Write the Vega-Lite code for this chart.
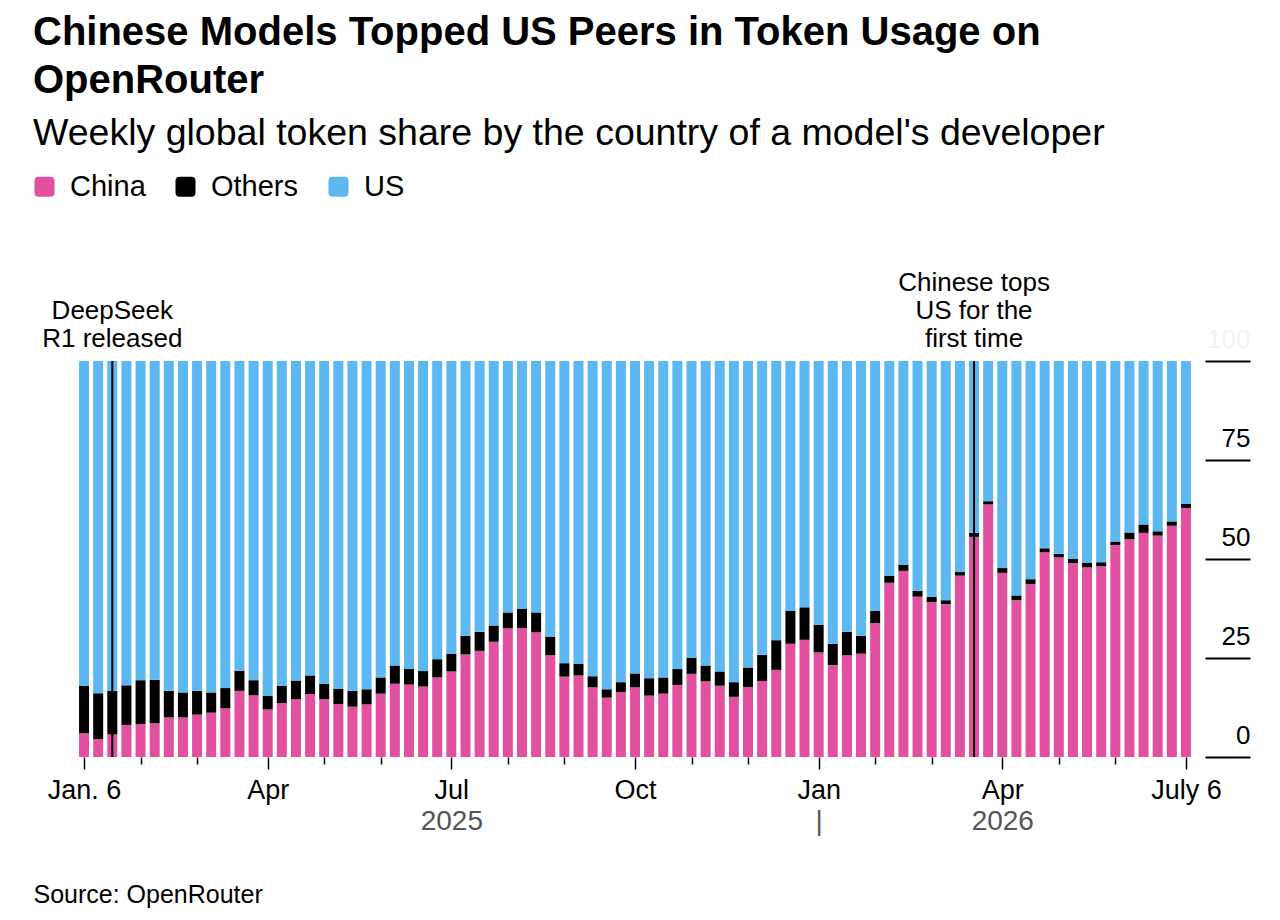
{
  "$schema": "https://vega.github.io/schema/vega-lite/v6.json",
  "width": 1114,
  "height": 396,
  "autosize": {"type": "none"},
  "padding": {"left": 78, "top": 361, "right": 88, "bottom": 163},
  "background": "white",
  "config": {
    "view": {"stroke": null},
    "font": "Liberation Sans"
  },
  "title": {
    "text": ["Chinese Models Topped US Peers in Token Usage on", "OpenRouter"],
    "subtitle": "Weekly global token share by the country of a model's developer",
    "anchor": "start",
    "frame": "group",
    "dx": -45,
    "dy": -8,
    "offset": 12,
    "font": "Liberation Sans",
    "fontSize": 40,
    "fontWeight": "bold",
    "lineHeight": 48,
    "color": "#000000",
    "subtitleFont": "Liberation Sans",
    "subtitleFontSize": 37.5,
    "subtitleColor": "#000000",
    "subtitlePadding": 14
  },
  "datasets": {
    "shares": [
      {"week": "2025-01-06", "China": 6.0, "Others": 11.9, "US": 82.1},
      {"week": "2025-01-13", "China": 4.5, "Others": 11.6, "US": 83.9},
      {"week": "2025-01-20", "China": 5.7, "Others": 11.0, "US": 83.3},
      {"week": "2025-01-27", "China": 8.1, "Others": 10.0, "US": 81.9},
      {"week": "2025-02-03", "China": 8.3, "Others": 11.1, "US": 80.6},
      {"week": "2025-02-10", "China": 8.5, "Others": 11.0, "US": 80.5},
      {"week": "2025-02-17", "China": 10.0, "Others": 6.7, "US": 83.3},
      {"week": "2025-02-24", "China": 10.0, "Others": 6.3, "US": 83.7},
      {"week": "2025-03-03", "China": 10.7, "Others": 6.0, "US": 83.3},
      {"week": "2025-03-10", "China": 11.2, "Others": 5.1, "US": 83.7},
      {"week": "2025-03-17", "China": 12.3, "Others": 5.1, "US": 82.6},
      {"week": "2025-03-24", "China": 16.7, "Others": 5.1, "US": 78.2},
      {"week": "2025-03-31", "China": 15.6, "Others": 3.8, "US": 80.6},
      {"week": "2025-04-07", "China": 12.0, "Others": 3.4, "US": 84.6},
      {"week": "2025-04-14", "China": 13.6, "Others": 4.4, "US": 82.0},
      {"week": "2025-04-21", "China": 14.6, "Others": 4.7, "US": 80.7},
      {"week": "2025-04-28", "China": 15.9, "Others": 4.7, "US": 79.4},
      {"week": "2025-05-05", "China": 14.6, "Others": 3.9, "US": 81.5},
      {"week": "2025-05-12", "China": 13.4, "Others": 3.8, "US": 82.8},
      {"week": "2025-05-19", "China": 12.7, "Others": 4.0, "US": 83.3},
      {"week": "2025-05-26", "China": 13.3, "Others": 3.8, "US": 82.9},
      {"week": "2025-06-02", "China": 16.0, "Others": 4.1, "US": 79.9},
      {"week": "2025-06-09", "China": 18.5, "Others": 4.6, "US": 76.9},
      {"week": "2025-06-16", "China": 18.3, "Others": 3.9, "US": 77.8},
      {"week": "2025-06-23", "China": 17.8, "Others": 3.9, "US": 78.3},
      {"week": "2025-06-30", "China": 20.1, "Others": 4.6, "US": 75.3},
      {"week": "2025-07-07", "China": 21.6, "Others": 4.5, "US": 73.9},
      {"week": "2025-07-14", "China": 25.9, "Others": 4.7, "US": 69.4},
      {"week": "2025-07-21", "China": 26.8, "Others": 4.8, "US": 68.4},
      {"week": "2025-07-28", "China": 29.1, "Others": 4.1, "US": 66.8},
      {"week": "2025-08-04", "China": 32.5, "Others": 4.0, "US": 63.5},
      {"week": "2025-08-11", "China": 32.6, "Others": 4.8, "US": 62.6},
      {"week": "2025-08-18", "China": 31.5, "Others": 5.0, "US": 63.5},
      {"week": "2025-08-25", "China": 25.7, "Others": 4.7, "US": 69.6},
      {"week": "2025-09-01", "China": 20.3, "Others": 3.4, "US": 76.3},
      {"week": "2025-09-08", "China": 20.6, "Others": 2.9, "US": 76.5},
      {"week": "2025-09-15", "China": 17.6, "Others": 2.8, "US": 79.6},
      {"week": "2025-09-22", "China": 15.0, "Others": 2.1, "US": 82.9},
      {"week": "2025-09-29", "China": 16.4, "Others": 2.5, "US": 81.1},
      {"week": "2025-10-06", "China": 17.6, "Others": 3.5, "US": 78.9},
      {"week": "2025-10-13", "China": 15.5, "Others": 4.4, "US": 80.1},
      {"week": "2025-10-20", "China": 16.0, "Others": 4.1, "US": 79.9},
      {"week": "2025-10-27", "China": 18.2, "Others": 4.0, "US": 77.8},
      {"week": "2025-11-03", "China": 21.0, "Others": 4.0, "US": 75.0},
      {"week": "2025-11-10", "China": 19.1, "Others": 4.0, "US": 76.9},
      {"week": "2025-11-17", "China": 18.0, "Others": 3.6, "US": 78.4},
      {"week": "2025-11-24", "China": 15.2, "Others": 3.7, "US": 81.1},
      {"week": "2025-12-01", "China": 17.7, "Others": 4.9, "US": 77.4},
      {"week": "2025-12-08", "China": 19.2, "Others": 6.6, "US": 74.2},
      {"week": "2025-12-15", "China": 22.0, "Others": 7.5, "US": 70.5},
      {"week": "2025-12-22", "China": 28.6, "Others": 8.3, "US": 63.1},
      {"week": "2025-12-29", "China": 29.6, "Others": 8.2, "US": 62.2},
      {"week": "2026-01-05", "China": 26.4, "Others": 7.0, "US": 66.6},
      {"week": "2026-01-12", "China": 23.2, "Others": 5.4, "US": 71.4},
      {"week": "2026-01-19", "China": 25.7, "Others": 5.9, "US": 68.4},
      {"week": "2026-01-26", "China": 26.1, "Others": 4.5, "US": 69.4},
      {"week": "2026-02-02", "China": 33.8, "Others": 3.1, "US": 63.1},
      {"week": "2026-02-09", "China": 44.0, "Others": 1.8, "US": 54.2},
      {"week": "2026-02-16", "China": 47.0, "Others": 1.5, "US": 51.5},
      {"week": "2026-02-23", "China": 40.5, "Others": 1.5, "US": 58.0},
      {"week": "2026-03-02", "China": 39.1, "Others": 1.3, "US": 59.6},
      {"week": "2026-03-09", "China": 38.6, "Others": 1.0, "US": 60.4},
      {"week": "2026-03-16", "China": 45.8, "Others": 0.9, "US": 53.3},
      {"week": "2026-03-23", "China": 55.6, "Others": 1.0, "US": 43.4},
      {"week": "2026-03-30", "China": 63.8, "Others": 0.8, "US": 35.4},
      {"week": "2026-04-06", "China": 46.5, "Others": 1.2, "US": 52.3},
      {"week": "2026-04-13", "China": 39.6, "Others": 1.2, "US": 59.2},
      {"week": "2026-04-20", "China": 43.7, "Others": 1.2, "US": 55.1},
      {"week": "2026-04-27", "China": 51.7, "Others": 1.0, "US": 47.3},
      {"week": "2026-05-04", "China": 50.4, "Others": 0.9, "US": 48.7},
      {"week": "2026-05-11", "China": 49.0, "Others": 1.0, "US": 50.0},
      {"week": "2026-05-18", "China": 47.9, "Others": 1.2, "US": 50.9},
      {"week": "2026-05-25", "China": 48.2, "Others": 1.0, "US": 50.8},
      {"week": "2026-06-01", "China": 53.5, "Others": 0.9, "US": 45.6},
      {"week": "2026-06-08", "China": 55.0, "Others": 1.7, "US": 43.3},
      {"week": "2026-06-15", "China": 56.6, "Others": 2.1, "US": 41.3},
      {"week": "2026-06-22", "China": 55.9, "Others": 1.1, "US": 43.0},
      {"week": "2026-06-29", "China": 58.4, "Others": 1.1, "US": 40.5},
      {"week": "2026-07-06", "China": 62.9, "Others": 1.0, "US": 36.1}
    ],
    "notes": [
      {"week": "2025-01-20", "event": "deepseek", "label": "DeepSeek\nR1 released"},
      {"week": "2026-03-23", "event": "tops", "label": "Chinese tops\nUS for the\nfirst time"}
    ]
  },
  "resolve": {"axis": {"x": "independent"}},
  "layer": [
    {
      "data": {"name": "shares"},
      "transform": [{"fold": ["China", "Others", "US"], "as": ["country", "share"]}],
      "mark": {"type": "bar", "width": 10},
      "encoding": {
        "x": {
          "field": "week",
          "type": "temporal",
          "scale": {
            "type": "utc",
            "padding": 0,
            "domain": [
              {"year": 2025, "month": 1, "date": 3, "utc": true},
              {"year": 2026, "month": 7, "date": 9, "utc": true}
            ]
          },
          "axis": {
            "title": null,
            "orient": "bottom",
            "domain": false,
            "grid": false,
            "values": [
              {"year": 2025, "month": 1, "date": 6, "utc": true},
              {"year": 2025, "month": 2, "date": 3, "utc": true},
              {"year": 2025, "month": 3, "date": 3, "utc": true},
              {"year": 2025, "month": 4, "date": 7, "utc": true},
              {"year": 2025, "month": 5, "date": 5, "utc": true},
              {"year": 2025, "month": 6, "date": 2, "utc": true},
              {"year": 2025, "month": 7, "date": 7, "utc": true},
              {"year": 2025, "month": 8, "date": 4, "utc": true},
              {"year": 2025, "month": 9, "date": 1, "utc": true},
              {"year": 2025, "month": 10, "date": 6, "utc": true},
              {"year": 2025, "month": 11, "date": 3, "utc": true},
              {"year": 2025, "month": 12, "date": 1, "utc": true},
              {"year": 2026, "month": 1, "date": 5, "utc": true},
              {"year": 2026, "month": 2, "date": 2, "utc": true},
              {"year": 2026, "month": 3, "date": 2, "utc": true},
              {"year": 2026, "month": 4, "date": 6, "utc": true},
              {"year": 2026, "month": 5, "date": 4, "utc": true},
              {"year": 2026, "month": 6, "date": 1, "utc": true},
              {"year": 2026, "month": 7, "date": 6, "utc": true}
            ],
            "labelExpr": "utcmonth(datum.value) == 0 && utcyear(datum.value) == 2025 ? 'Jan. 6' : (utcmonth(datum.value) == 6 && utcyear(datum.value) == 2026 ? 'July 6' : (utcmonth(datum.value) % 3 == 0 ? utcFormat(datum.value, '%b') : ''))",
            "tickSize": {"condition": {"test": "utcmonth(datum.value) % 3 == 0", "value": 12}, "value": 7},
            "tickColor": "#000000",
            "tickWidth": 1.5,
            "labelFont": "Liberation Sans",
            "labelFontSize": 27,
            "labelColor": "#000000",
            "labelPadding": 8,
            "labelOverlap": false,
            "labelFlush": false,
            "labelBound": false
          }
        },
        "y": {
          "field": "share",
          "type": "quantitative",
          "stack": "zero",
          "scale": {"domain": [0, 100], "nice": false},
          "axis": {
            "title": null,
            "orient": "right",
            "offset": 13,
            "domain": false,
            "grid": false,
            "values": [0, 25, 50, 75, 100],
            "tickSize": 45,
            "tickWidth": 2,
            "tickColor": "#000000",
            "labelAlign": "right",
            "labelBaseline": "alphabetic",
            "labelPadding": 0,
            "labelOffset": -14,
            "labelFont": "Liberation Sans",
            "labelFontSize": 26,
            "labelColor": {"condition": {"test": "datum.value == 100", "value": "#f2f2f2"}, "value": "#000000"}
          }
        },
        "color": {
          "field": "country",
          "type": "nominal",
          "scale": {"domain": ["China", "Others", "US"], "range": ["#e1519f", "#000000", "#5db7f0"]},
          "legend": {
            "title": null,
            "orient": "none",
            "legendX": -48,
            "legendY": -189,
            "direction": "horizontal",
            "symbolType": "M-1,-0.6Q-1,-1,-0.6,-1L0.6,-1Q1,-1,1,-0.6L1,0.6Q1,1,0.6,1L-0.6,1Q-1,1,-1,0.6Z",
            "symbolSize": 400,
            "symbolStrokeWidth": 0,
            "labelFont": "Liberation Sans",
            "labelFontSize": 29,
            "labelColor": "#000000",
            "labelOffset": 11,
            "columnPadding": 25,
            "padding": 0
          }
        },
        "order": {"field": "country", "sort": "ascending"}
      }
    },
    {
      "data": {"name": "notes"},
      "mark": {"type": "rule", "color": "#000000", "strokeWidth": 2},
      "encoding": {
        "x": {
          "field": "week",
          "type": "temporal",
          "axis": {
            "orient": "bottom",
            "title": "Source: OpenRouter",
            "titleX": -45,
            "titleY": 137,
            "titleAlign": "left",
            "titleAnchor": null,
            "titleBaseline": "middle",
            "titleFont": "Liberation Sans",
            "titleFontSize": 25,
            "titleFontWeight": "normal",
            "titleColor": "#000000",
            "domain": false,
            "grid": false,
            "ticks": false,
            "values": [
              {"year": 2025, "month": 7, "date": 7, "utc": true},
              {"year": 2026, "month": 1, "date": 5, "utc": true},
              {"year": 2026, "month": 4, "date": 6, "utc": true}
            ],
            "labelExpr": "utcyear(datum.value) == 2025 ? '2025' : (utcmonth(datum.value) == 0 ? '|' : '2026')",
            "labelPadding": 50,
            "labelFont": "Liberation Sans",
            "labelFontSize": 28,
            "labelColor": "#555555",
            "labelOverlap": false,
            "labelFlush": false,
            "labelBound": false
          }
        },
        "y": {"datum": 0},
        "y2": {"datum": 100}
      }
    },
    {
      "data": {"name": "notes"},
      "transform": [{"filter": "datum.event == 'deepseek'"}],
      "mark": {"type": "text", "align": "center", "baseline": "bottom", "lineBreak": "\n", "lineHeight": 28, "font": "Liberation Sans", "fontSize": 26, "color": "#000000"},
      "encoding": {
        "x": {"field": "week", "type": "temporal", "axis": null},
        "y": {"datum": 109.3},
        "text": {"field": "label", "type": "nominal"}
      }
    },
    {
      "data": {"name": "notes"},
      "transform": [{"filter": "datum.event == 'tops'"}],
      "mark": {"type": "text", "align": "center", "baseline": "bottom", "lineBreak": "\n", "lineHeight": 28, "font": "Liberation Sans", "fontSize": 26, "color": "#000000"},
      "encoding": {
        "x": {"field": "week", "type": "temporal", "axis": null},
        "y": {"datum": 116.4},
        "text": {"field": "label", "type": "nominal"}
      }
    }
  ]
}
